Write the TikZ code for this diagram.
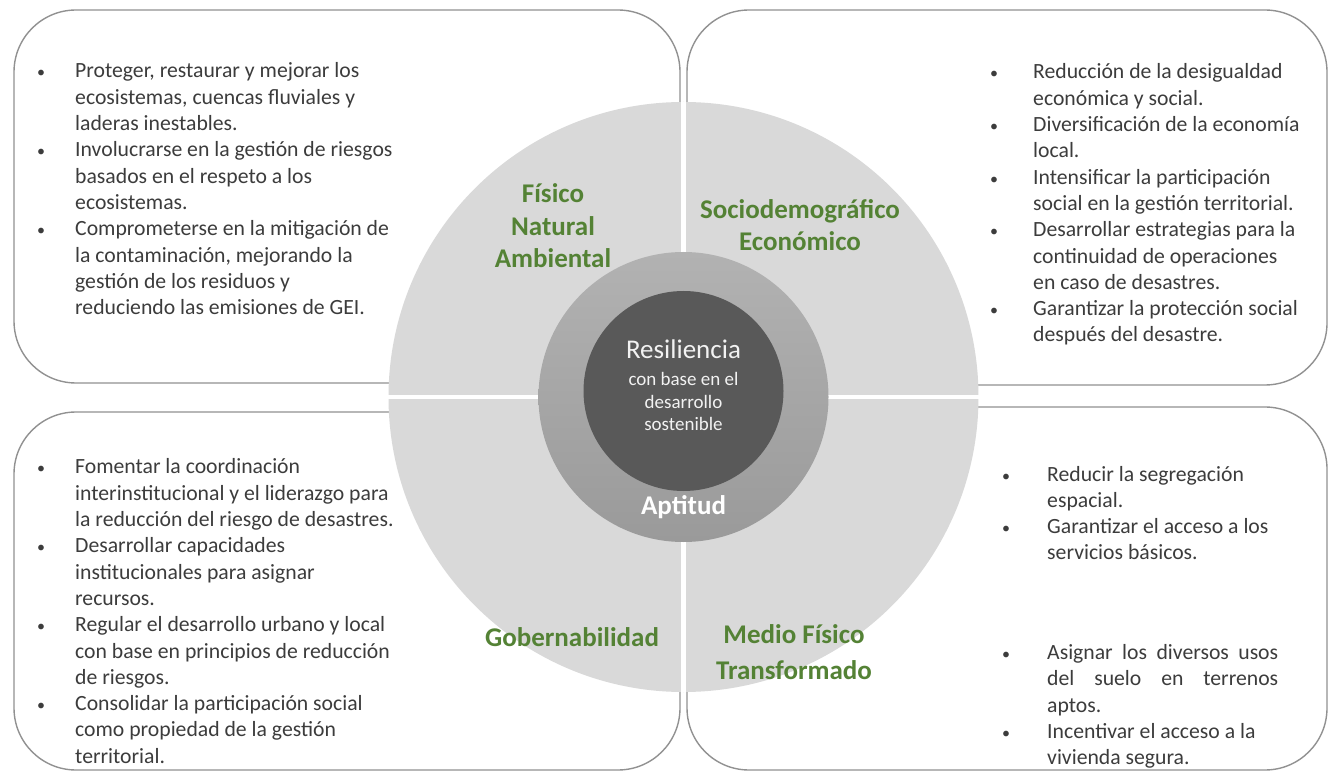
\documentclass[tikz,border=0pt]{standalone}
\usepackage{fontspec}
\setmainfont{Carlito}
\usepackage{tikz}
\definecolor{diskgray}{RGB}{217,217,217}
\definecolor{ringtop}{RGB}{178,178,178}
\definecolor{ringbot}{RGB}{154,154,154}
\definecolor{coregray}{RGB}{89,89,89}
\definecolor{leafgreen}{RGB}{84,130,53}
\definecolor{boxline}{RGB}{145,145,145}
\definecolor{bodytext}{RGB}{60,60,60}
\definecolor{coretext}{RGB}{242,242,242}
\newcommand\itemdot{{\fontsize{16}{16}\selectfont •}}

\begin{document}
\begin{tikzpicture}[x=1pt, y=-1pt,
  panel/.style={draw=boxline, line width=1.4pt, rounded corners=62pt},
  items/.style={anchor=base west, inner sep=0pt, text=bodytext,
    font=\fontsize{21.7}{26.3}\selectfont},
  sector/.style={anchor=base, inner sep=0pt, align=center, text=leafgreen,
    font=\bfseries\fontsize{27}{32.5}\selectfont},
  disc/.style={circle, inner sep=0pt}]
\path [fill=white, use as bounding box] (0,0) rectangle (1331,775);

% four panels
\draw [panel] (14,10) rectangle (680,383);
\draw [panel] (687,10) rectangle (1327,385);
\draw [panel] (14,412) rectangle (680,770);
\draw [panel] (687,407) rectangle (1327,770);

% central disc
\node [disc, fill=diskgray, minimum size=590pt] (disk) at (683.5,397) {};
\draw [white, line width=4.5pt] (disk.north) -- (disk.south);
\draw [white, line width=4.5pt] (disk.west) -- (disk.east);
\node [disc, minimum size=290pt, top color=ringtop, bottom color=ringbot] (ring) at (683.5,397) {};
\node [disc, fill=coregray, minimum size=200pt] (core) at (683.5,391) {};

% base of a multi-line node = last line
\node [anchor=base, inner sep=0pt, text=coretext, font=\fontsize{27}{32}\selectfont] (resil) at (683.5,359) {Resiliencia};
\node [anchor=base, inner sep=0pt, align=center, text=coretext, font=\fontsize{19}{22.5}\selectfont] (basis) at (683.5,431)
  {con base en el\\desarrollo\\sostenible};
\node [sector, text=white] (apt) at (683.5,514) {Aptitud};

% sector labels
\node [sector] (phys) at (553,268) {Físico\\Natural\\Ambiental};
\node [sector] (socio) at (800,251) {Sociodemográfico\\Económico};
\node [sector] (gov) at (572,646) {Gobernabilidad};
\node [sector] (built) at (794,679) {Medio Físico\\[3.5pt]Transformado};

% bullet lists
\node [items] (physlist) at (37,78) {\begin{tabular}[t]{@{}p{38pt}@{}l@{}}
\itemdot&Proteger, restaurar y mejorar los\\
 &ecosistemas, cuencas fluviales y\\
 &laderas inestables.\\
\itemdot&Involucrarse en la gestión de riesgos\\
 &basados en el respeto a los\\
 &ecosistemas.\\
\itemdot&Comprometerse en la mitigación de\\
 &la contaminación, mejorando la\\
 &gestión de los residuos y\\
 &reduciendo las emisiones de GEI.
\end{tabular}};

\node [items] (sociolist) at (990,79) {\begin{tabular}[t]{@{}p{43pt}@{}l@{}}
\itemdot&Reducción de la desigualdad\\
 &económica y social.\\
\itemdot&Diversificación de la economía\\
 &local.\\
\itemdot&Intensificar la participación\\
 &social en la gestión territorial.\\
\itemdot&Desarrollar estrategias para la\\
 &continuidad de operaciones\\
 &en caso de desastres.\\
\itemdot&Garantizar la protección social\\
 &después del desastre.
\end{tabular}};

\node [items] (govlist) at (37,474) {\begin{tabular}[t]{@{}p{38pt}@{}l@{}}
\itemdot&Fomentar la coordinación\\
 &interinstitucional y el liderazgo para\\
 &la reducción del riesgo de desastres.\\
\itemdot&Desarrollar capacidades\\
 &institucionales para asignar\\
 &recursos.\\
\itemdot&Regular el desarrollo urbano y local\\
 &con base en principios de reducción\\
 &de riesgos.\\
\itemdot&Consolidar la participación social\\
 &como propiedad de la gestión\\
 &territorial.
\end{tabular}};

\node [items] (builtlist) at (1002,481) {\begin{tabular}[t]{@{}p{45pt}@{}l@{}}
\itemdot&Reducir la segregación\\
 &espacial.\\
\itemdot&Garantizar el acceso a los\\
 &servicios básicos.\\[73.5pt]
\itemdot&\makebox[231pt][s]{Asignar los diversos usos}\\
 &\makebox[231pt][s]{del suelo en terrenos}\\
 &aptos.\\
\itemdot&Incentivar el acceso a la\\
 &vivienda segura.
\end{tabular}};
\end{tikzpicture}
\end{document}
